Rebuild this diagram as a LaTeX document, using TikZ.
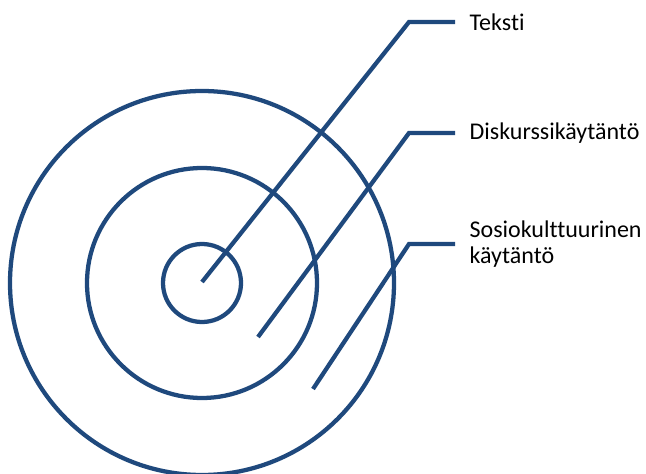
\documentclass[tikz,border=0pt]{standalone}
\usepackage{fontspec}
\setmainfont{Carlito}[Ligatures=NoCommon]
\definecolor{ringblue}{RGB}{31,73,125}
\begin{document}
\begin{tikzpicture}[x=0.75pt,y=-0.75pt,
  ring/.style={draw=ringblue,line width=3.2pt},
  leader/.style={draw=ringblue,line width=3.2pt,line join=miter},
  lbl/.style={anchor=west,inner xsep=10.8pt,inner ysep=0pt,font=\fontsize{18}{19.5}\selectfont,align=left,text=black}]
\useasboundingbox (0,0) rectangle (646,474);
\coordinate (c) at (202,283);
\draw[ring] (c) circle[radius=39];
\draw[ring] (c) circle[radius=115];
\draw[ring] (c) circle[radius=192];
\node[lbl] (t1) at (455,22) {Teksti};
\node[lbl] (t2) at (455,133) {Diskurssikäytäntö};
\node[lbl] (t3) at (455,244) {Sosiokulttuurinen\\käytäntö};
\coordinate (s1) at (202,282);
\coordinate (k1) at (409,22);
\coordinate (s2) at (258,337);
\coordinate (k2) at (409,133);
\coordinate (s3) at (313,389);
\coordinate (k3) at (409,244);
\draw[leader] (s1) -- (k1) -- (t1.west);
\draw[leader] (s2) -- (k2) -- (t2.west);
\draw[leader] (s3) -- (k3) -- (t3.west);
\end{tikzpicture}
\end{document}
